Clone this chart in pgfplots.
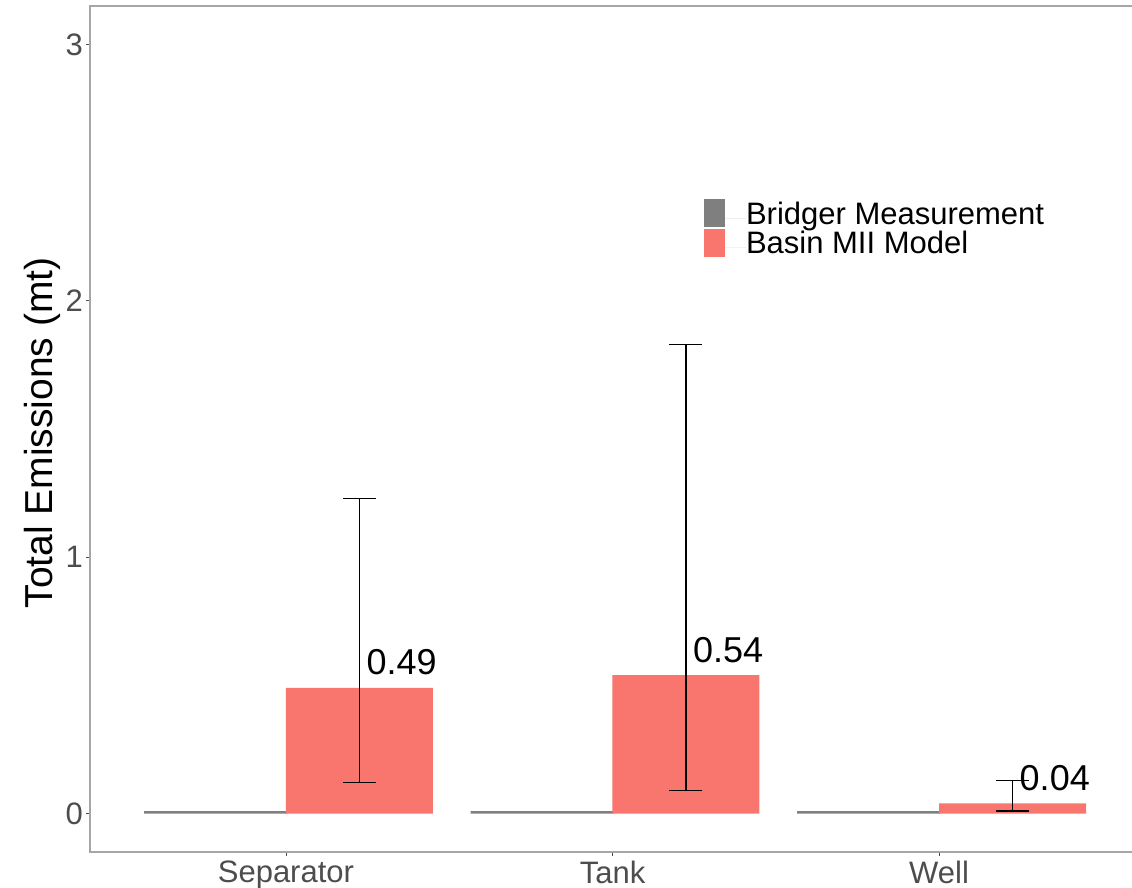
\documentclass[border=0pt]{standalone}
\usepackage{fontspec}
\setmainfont{Liberation Sans}
\usepackage{pgfplots}
\pgfplotsset{compat=1.18}
\definecolor{barred}{HTML}{F8766D}
\definecolor{bargray}{HTML}{7F7F7F}
\definecolor{ticklab}{HTML}{4D4D4D}
\begin{document}
\begin{tikzpicture}
\useasboundingbox (0,0) rectangle (1132pt,888pt);
\begin{axis}[
 at={(90pt,36pt)}, anchor=south west,
 scale only axis, width=1045pt, height=846pt,
 xmin=0.4, xmax=3.6, ymin=-0.15, ymax=3.15,
 xtick={1,2,3}, xticklabels={Separator,Tank,Well},
 ytick={0,1,2,3},
 tick align=outside, xtick pos=left, ytick pos=left,
 major tick length=4pt,
 every tick/.style={draw=black!70, line width=0.8pt},
 axis line style={draw=black!35, line width=1.4pt},
 ticklabel style={font=\fontsize{31}{36}\selectfont, text=ticklab, inner sep=0pt},
 xticklabel style={yshift=-5pt},
 yticklabel style={xshift=-3pt},
 /pgf/number format/assume math mode=true,
 ylabel={Total Emissions (mt)},
 every axis y label/.style={at={([xshift=-38pt,yshift=-4pt]axis description cs:0,0.5)}, rotate=90, anchor=base, font=\fontsize{39}{46}\selectfont, inner sep=0pt},
 legend style={at={(0.5876,0.766)}, anchor=north west, draw=none, fill=none, inner sep=0pt, outer sep=0pt, row sep=0pt,
   font=\fontsize{31}{36}\selectfont, nodes={inner sep=0pt, text height=21pt, text depth=8pt}},
 legend cell align=left,
]
\addplot[ybar, bar width=0.438, bar shift=0pt, fill=bargray, draw=none,
  legend image code/.code={\fill[bargray, overlay] (0pt,-9pt) rectangle (21pt,19pt); \path (0pt,0pt) -- (42pt,0pt);}]
  coordinates {(0.7844,0.009) (1.7844,0.009) (2.7844,0.009)};
\addlegendentry{Bridger Measurement}
\addplot[ybar, bar width=0.45, bar shift=0pt, fill=barred, draw=none,
  legend image code/.code={\fill[barred, overlay] (0pt,-9.5pt) rectangle (21pt,18.5pt); \path (0pt,0pt) -- (42pt,0pt);},
  nodes near coords={\pgfmathprintnumber[fixed, fixed zerofill, precision=2]{\pgfplotspointmeta}},
  point meta=y,
  every node near coord/.append style={anchor=base west, xshift=7pt, yshift=13pt, font=\fontsize{36}{41}\selectfont, text=black, inner sep=0pt},
  error bars/.cd, y dir=both, y explicit,
  error bar style={black, line width=1.1pt},
  error mark options={black, rotate=90, mark size=16.5pt, line width=1.1pt}]
  coordinates {
   (1.225,0.49) += (0,0.74) -= (0,0.37)
   (2.225,0.54) += (0,1.29) -= (0,0.45)
   (3.225,0.04) += (0,0.09) -= (0,0.03)
  };
\addlegendentry{Basin MII Model}
\end{axis}
\end{tikzpicture}
\end{document}
